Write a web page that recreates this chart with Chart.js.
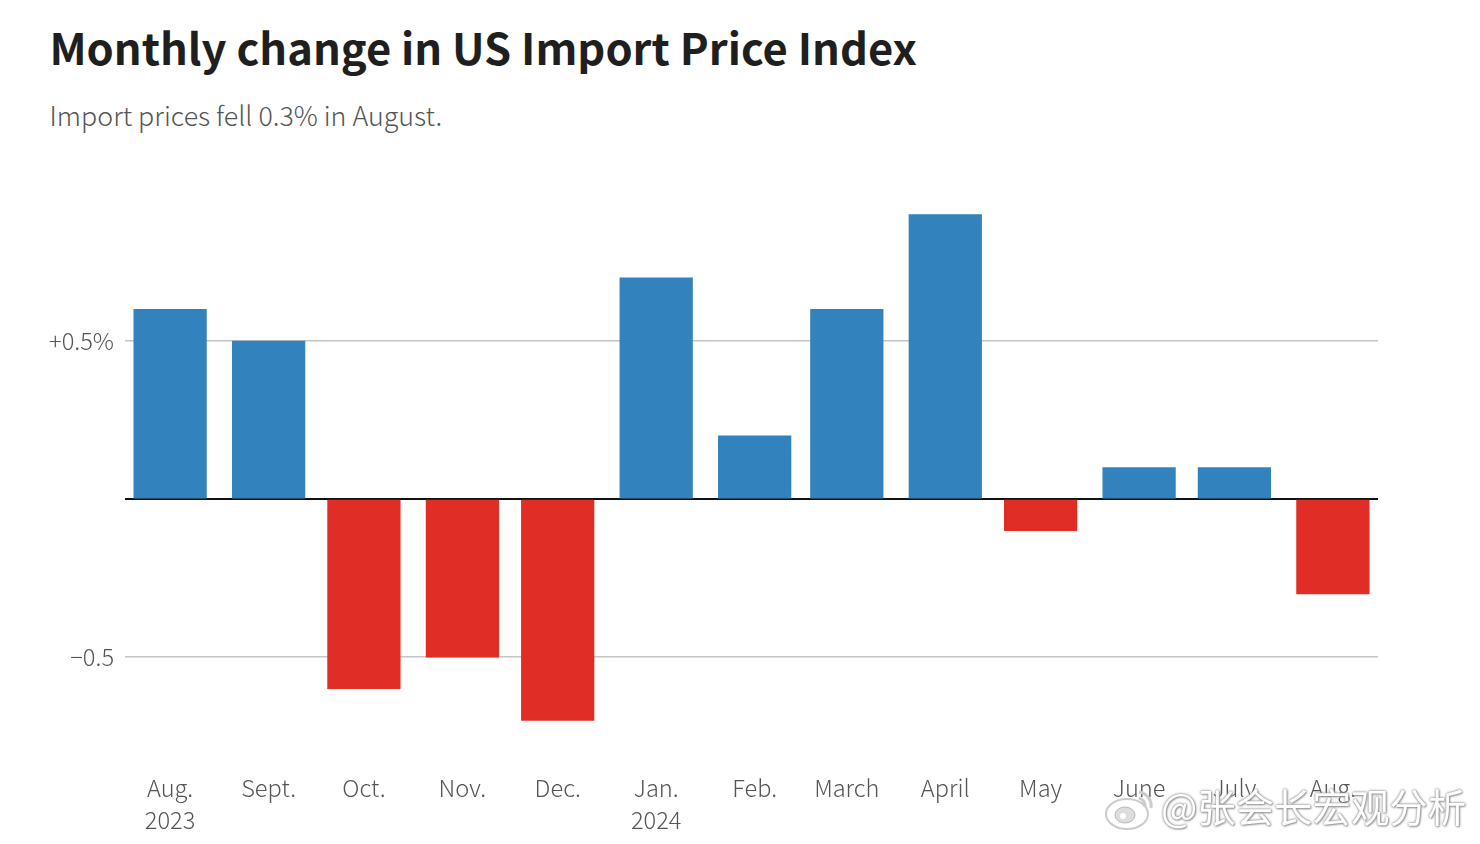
<!DOCTYPE html>
<html>
<head>
<meta charset="utf-8">
<script src="https://cdn.jsdelivr.net/npm/chart.js@4"></script>
<style>
    html, body { margin: 0; padding: 0; background: #fff; }
    body { width: 1480px; height: 844px; position: relative; overflow: hidden; font-family: "Noto Sans CJK SC", "Noto Sans", sans-serif; }
    #chart { position: absolute; left: 0; top: 0; }
    h1 { position: absolute; left: 49.5px; top: 14px; margin: 0; font-size: 43.5px; line-height: 66px; font-weight: 700; color: #1f1f1f; white-space: nowrap; }
    h2 { position: absolute; left: 49.5px; top: 95px; margin: 0; font-size: 26.8px; line-height: 40px; font-weight: 300; color: #555; white-space: nowrap; }
    #mark { position: absolute; left: 1161px; top: 779px; font-size: 38.4px; line-height: 52px; color: #fff; white-space: nowrap;
        text-shadow: 0 0 2px #888, 0 0 3px #aaa, 1px 1px 2px #999; }
    #logo { position: absolute; left: 1103px; top: 786px; }
</style>
</head>
<body>
<h1>Monthly change in US Import Price Index</h1>
<h2>Import prices fell 0.3% in August.</h2>
<canvas id="chart" width="1480" height="844"></canvas>
<svg id="logo" width="56" height="46" viewBox="0 0 56 46">
    <ellipse cx="24" cy="28" rx="21" ry="15" fill="#fff" stroke="#ccc" stroke-width="2"/>
    <ellipse cx="22" cy="29" rx="10" ry="8" fill="#ddd" stroke="#bbb"/>
    <circle cx="20" cy="30" r="3" fill="#fff"/>
    <path d="M36 6 a14 14 0 0 1 12 16 M36 12 a8 8 0 0 1 6 9" fill="none" stroke="#ccc" stroke-width="3"/>
</svg>
<div id="mark">@张会长宏观分析</div>
<script>
// days since Aug 2023, the original x axis is a date axis so months are not evenly spaced
const month_days = [0, 31, 61, 92, 122, 153, 184, 213, 244, 274, 305, 335, 366];
const month_labels = [['Aug.', '2023'], 'Sept.', 'Oct.', 'Nov.', 'Dec.', ['Jan.', '2024'], 'Feb.', 'March', 'April', 'May', 'June', 'July', 'Aug.'];
const change_values = [0.6, 0.5, -0.6, -0.5, -0.7, 0.7, 0.2, 0.6, 0.9, -0.1, 0.1, 0.1, -0.3];
const y_ticks = [-0.5, 0, 0.5];
const y_tick_labels = ['−0.5', '', '+0.5%'];

const blue = '#3282bd';
const red = '#e02d26';
const font_family = '"Noto Sans CJK SC", "Noto Sans", sans-serif';

new Chart(document.getElementById('chart'), {
    type: 'bar',
    data: {
        datasets: [{
            data: month_days.map((d, i) => ({ x: d, y: change_values[i] })),
            backgroundColor: change_values.map(v => v < 0 ? red : blue),
            barThickness: 72.6,
            borderWidth: 0,
        }]
    },
    options: {
        responsive: false,
        animation: false,
        layout: { padding: { left: 0, right: 102, top: 183, bottom: 0 } },
        plugins: {
            legend: { display: false },
            title: { display: false },
            tooltip: { enabled: false },
        },
        scales: {
            x: {
                type: 'linear',
                min: -14.2,
                max: 380.2,
                offset: false,
                grid: { display: false },
                border: { display: false },
                afterBuildTicks: (axis) => { axis.ticks = month_days.map(d => ({ value: d })) },
                afterFit: (axis) => { axis.height = 92 },
                ticks: {
                    autoSkip: false,
                    maxRotation: 0,
                    padding: 12,
                    color: '#555',
                    font: { family: font_family, size: 23.6, weight: 300, lineHeight: 1.35 },
                    callback: (value) => month_labels[month_days.indexOf(value)],
                },
            },
            y: {
                min: -0.8,
                max: 1,
                border: { display: false },
                afterBuildTicks: (axis) => { axis.ticks = y_ticks.map(v => ({ value: v })) },
                afterFit: (axis) => { axis.width = 125 },
                grid: {
                    drawTicks: false,
                    lineWidth: (c) => c.tick.value === 0 ? 2 : 1.5,
                    color: (c) => c.tick.value === 0 ? '#111' : '#c4c4c4',
                },
                ticks: {
                    padding: 11,
                    color: '#555',
                    font: { family: font_family, size: 23.6, weight: 300 },
                    callback: (value) => y_tick_labels[y_ticks.indexOf(value)],
                },
            },
        },
    },
});
</script>
</body>
</html>
